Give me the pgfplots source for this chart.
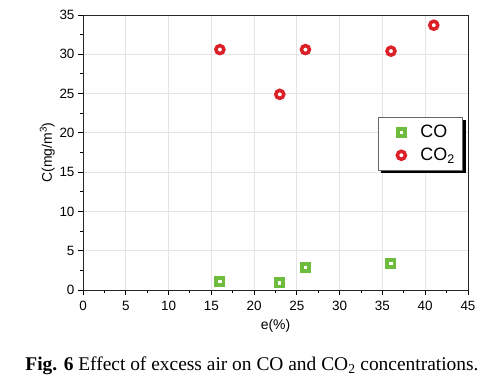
\documentclass[border=0pt]{standalone}
\usepackage{fontspec}
\setmainfont{Liberation Sans}
\newfontfamily\capfont{Liberation Serif}
\usepackage{pgfplots}
\pgfplotsset{compat=1.18}
\usetikzlibrary{shadows}
\definecolor{cored}{RGB}{220,32,40}
\definecolor{cogreen}{RGB}{110,188,62}
\definecolor{gridgray}{RGB}{228,228,228}
\begin{document}
\begin{tikzpicture}
\begin{axis}[
  at={(0,0)}, anchor=south west,
  scale only axis, width=385bp, height=275bp,
  xmin=0, xmax=45, ymin=0, ymax=35,
  xtick={0,5,...,45}, ytick={0,5,...,35},
  minor x tick num=1, minor y tick num=1,
  tick pos=left, tick align=outside,
  major tick length=5bp, minor tick length=3bp,
  grid=major,
  major grid style={gridgray, line width=0.8bp},
  axis line style={black!85, line width=0.9bp},
  every tick/.style={black, line width=0.9bp},
  /pgf/number format/assume math mode=true,
  tick label style={font=\fontsize{13.5}{15}\selectfont},
  xticklabel style={yshift=-3bp},
  xlabel={e(\%)}, ylabel={C(mg/m\textsuperscript{3})},
  label style={font=\fontsize{14}{16}\selectfont},
  xlabel style={yshift=-2bp},
  ylabel style={yshift=-2bp},
  legend style={at={(0.987,0.629)}, anchor=north east,
    draw=black!60, fill=white, line width=0.5bp,
    font=\fontsize{18}{20}\selectfont,
    drop shadow={shadow xshift=3bp, shadow yshift=-3bp, fill=black, opacity=1},
    row sep=5bp, inner xsep=6bp, inner ysep=6bp},
  legend cell align=left,
  legend image code/.code={\pgfpathmoveto{\pgfpoint{0bp}{0bp}}\pgfpathlineto{\pgfpoint{24bp}{0bp}}\pgfusepath{}\draw[#1] plot coordinates {(17bp,0bp)};},
]
\addplot[only marks, mark=square*, mark size=3.6bp, mark options={draw=cogreen, fill=white, line width=3.8bp}]
  coordinates {(16,1.1) (23,0.9) (26,2.9) (36,3.4)};
\addlegendentry{\hspace{10bp}CO}
\addplot[only marks, mark=*, mark size=4bp, mark options={draw=cored, fill=white, line width=3.5bp}]
  coordinates {(16,30.6) (23,24.9) (26,30.6) (36,30.4) (41,33.7)};
\addlegendentry{\hspace{10bp}CO\textsubscript{2}}
\end{axis}
\path (-83bp,-93bp) rectangle (410bp,290bp);
\node at (169bp,-76bp) {\capfont\fontsize{19.5}{22}\selectfont\textbf{Fig. 6} Effect of excess air on CO and CO\textsubscript{2} concentrations.};
\end{tikzpicture}
\end{document}
